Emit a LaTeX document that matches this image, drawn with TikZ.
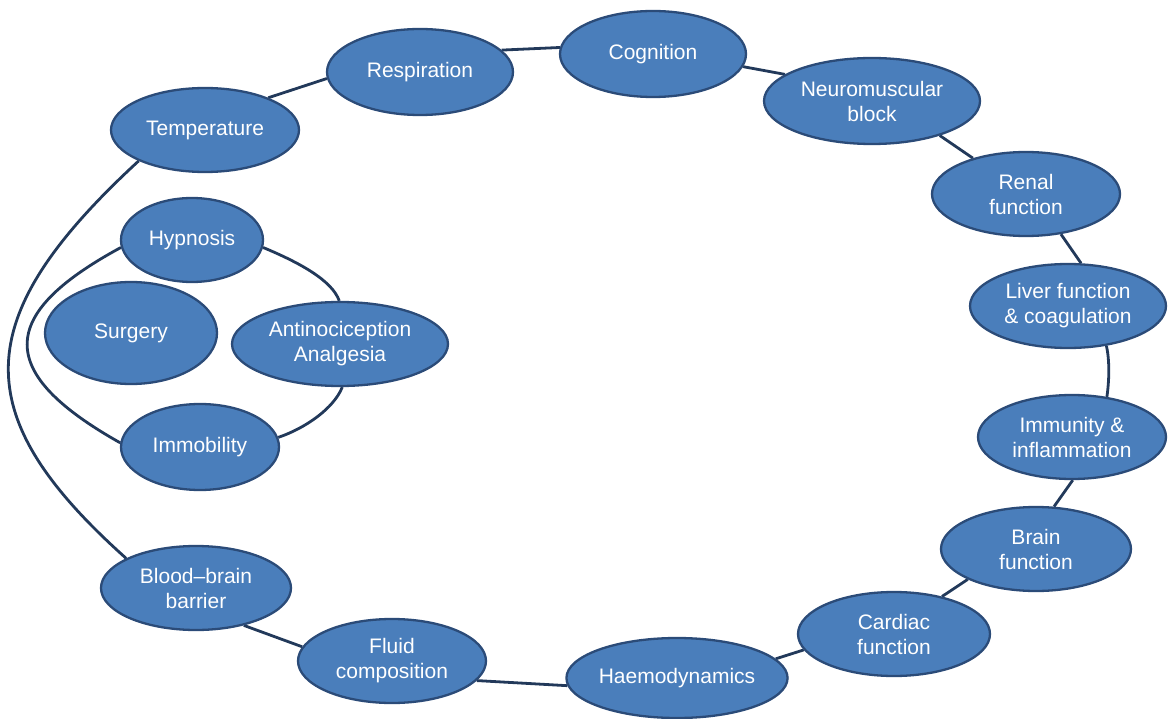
\documentclass[tikz,border=0pt]{standalone}
\usepackage{fontspec}
\setmainfont{Liberation Sans}
\usetikzlibrary{shapes.geometric,backgrounds}
\definecolor{fillblue}{HTML}{4A7EBB}
\definecolor{edgeblue}{HTML}{2B4B78}
\definecolor{linkblue}{HTML}{22395A}
\begin{document}
\begin{tikzpicture}[x=1pt,y=-1pt,
  oval/.style={ellipse, draw=edgeblue, line width=2.3pt, fill=fillblue, text=white,
    inner sep=0pt, align=center, font=\fontsize{21}{25}\selectfont},
  link/.style={draw=linkblue, line width=2.8pt}]
\useasboundingbox (0,0) rectangle (1170,719);
% outer ring
\node[oval, minimum width=188pt, minimum height=84pt] (temp) at (205,130) {Temperature};
\node[oval, minimum width=186pt, minimum height=86pt] (resp) at (420,72) {Respiration};
\node[oval, minimum width=186pt, minimum height=86pt] (cog) at (653,54) {Cognition};
\node[oval, minimum width=216pt, minimum height=86pt] (neuro) at (872,101) {Neuromuscular\\block};
\node[oval, minimum width=188pt, minimum height=84pt] (renal) at (1026,194) {Renal\\function};
\node[oval, minimum width=196pt, minimum height=84pt] (liver) at (1068,306) {Liver function\\\& coagulation};
\node[oval, minimum width=188pt, minimum height=84pt] (immun) at (1072,437) {Immunity \&\\inflammation};
\node[oval, minimum width=190pt, minimum height=84pt] (brain) at (1036,549) {Brain\\function};
\node[oval, minimum width=192pt, minimum height=84pt] (cardiac) at (894,634) {Cardiac\\function};
\node[oval, minimum width=216pt, minimum height=80pt] (haemo) at (677,678) {Haemodynamics};
\node[oval, minimum width=188pt, minimum height=84pt] (fluid) at (392,661) {Fluid\\composition};
\node[oval, minimum width=190pt, minimum height=84pt] (bbb) at (196,588) {Blood–brain\\barrier};
% inner group
\node[oval, minimum width=142pt, minimum height=84pt] (hyp) at (192,240) {Hypnosis};
\node[oval, minimum width=172pt, minimum height=102pt] (surg) at (131,333) {Surgery};
\node[oval, minimum width=216pt, minimum height=84pt] (anti) at (340,344) {Antinociception\\Analgesia};
\node[oval, minimum width=158pt, minimum height=86pt] (imm) at (200,447) {Immobility};
\begin{scope}[on background layer]
  \draw[link] (temp.27) -- (resp.184);
  \draw[link] (resp.15) -- (cog.176);
  \draw[link] (cog.-8) -- (neuro.163);
  \draw[link] (neuro.-27) -- (renal.146);
  \draw[link] (renal.-49) -- (liver.73);
  \draw[link] (liver.-46) .. controls (1110,362) and (1109,382) .. (immun.49);
  \draw[link] (immun.-89) -- (brain.67);
  \draw[link] (brain.204) -- (cardiac.38);
  \draw[link] (cardiac.190) -- (haemo.11);
  \draw[link] (haemo.184) -- (fluid.-13);
  \draw[link] (fluid.171) -- (bbb.-38);
  \draw[link] (temp.205) .. controls (-33,319) and (-33,416) .. (bbb.157);
  \draw[link] (hyp.186) .. controls (-4,315) and (-4,373) .. (imm.177);
  \draw[link] (hyp.-6) .. controls (298,262) and (332,280) .. (anti.91);
  \draw[link] (anti.-87) .. controls (334,408) and (306,428) .. (imm.7);
\end{scope}
\end{tikzpicture}
\end{document}
